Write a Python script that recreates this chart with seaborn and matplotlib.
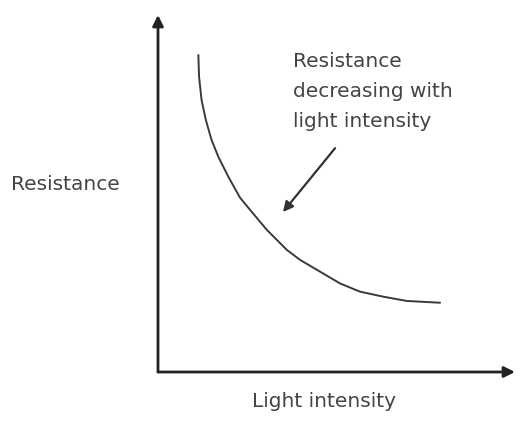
import matplotlib
matplotlib.use("Agg")
import matplotlib.pyplot as plt
import seaborn as sns
import pandas as pd

# Data (arbitrary units)
light_intensity = [1.13, 1.15, 1.22, 1.34, 1.50, 1.69, 1.97, 2.30, 2.58, 3.05, 3.61, 3.98,
                   4.54, 5.10, 5.66, 6.31, 6.97, 7.90]
resistance = [8.88, 8.27, 7.62, 7.06, 6.50, 6.03, 5.47, 4.88, 4.54, 3.98, 3.42, 3.14,
              2.81, 2.48, 2.25, 2.11, 1.99, 1.94]
x_label = "Light intensity"
y_label = "Resistance"
note_text = "Resistance\ndecreasing with\nlight intensity"

sns.set_theme(style="white")
plt.rcParams['font.family'] = ['DejaVu Sans']

df = pd.DataFrame({"light": light_intensity, "resistance": resistance})

fig = plt.figure(figsize=(5.2, 4.46), dpi=100)
ax = fig.add_axes([158/520, 74/446, 357/520, 357/446])
sns.lineplot(data=df, x="light", y="resistance", ax=ax, color="#3a3a3a", linewidth=1.4)

ax.set_xlim(0, 10)
ax.set_ylim(0, 10)
for s in ax.spines.values():
    s.set_visible(False)
ax.set_xticks([])
ax.set_yticks([])
ax.set_xlabel("")
ax.set_ylabel("")

axis_style = dict(arrowstyle='-|>', lw=2, color="#222222", mutation_scale=16, shrinkA=0, shrinkB=0)
ax.annotate("", xy=(0, 10), xytext=(0, 0), arrowprops=axis_style, annotation_clip=False)
ax.annotate("", xy=(10, 0), xytext=(0, 0), arrowprops=axis_style, annotation_clip=False)

ax.text(-2.6, 5.24, y_label, ha="center", va="center", fontsize=14.5, color="#444444", clip_on=False)
ax.text(4.64, -0.84, x_label, ha="center", va="center", fontsize=14.5, color="#444444", clip_on=False)

ax.text(3.78, 8.95, note_text, fontsize=14.5, color="#444444",
        ha="left", va="top", linespacing=1.72, clip_on=False)
ax.annotate("", xy=(3.5, 4.48), xytext=(4.96, 6.27),
            arrowprops=dict(arrowstyle="-|>", lw=1.6, color="#333333", mutation_scale=15,
                            shrinkA=0, shrinkB=0),
            annotation_clip=False)

fig.savefig("out.png", dpi=100)
